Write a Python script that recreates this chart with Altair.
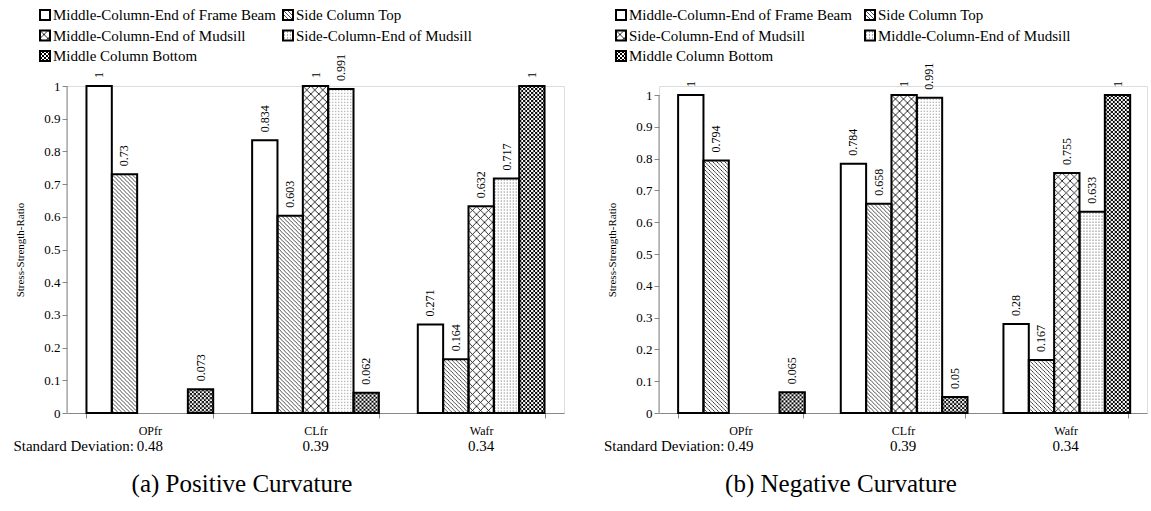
import altair as alt
import pandas as pd
from urllib.parse import quote

FONT = "Liberation Serif"

categories = ["OPfr", "CLfr", "Wafr"]
slots = ["s1", "s2", "s3", "s4", "s5"]

names_a = ["Middle-Column-End of Frame Beam", "Side Column Top",
           "Middle-Column-End of Mudsill", "Side-Column-End of Mudsill",
           "Middle Column Bottom"]
names_b = ["Middle-Column-End of Frame Beam", "Side Column Top",
           "Side-Column-End of Mudsill", "Middle-Column-End of Mudsill",
           "Middle Column Bottom"]

# values per category, in slot order (None = no bar)
a_opfr = [1, 0.73, None, None, 0.073]
a_clfr = [0.834, 0.603, 1, 0.991, 0.062]
a_wafr = [0.271, 0.164, 0.632, 0.717, 1]
b_opfr = [1, 0.794, None, None, 0.065]
b_clfr = [0.784, 0.658, 1, 0.991, 0.05]
b_wafr = [0.28, 0.167, 0.755, 0.633, 1]

sd_a = ["0.48", "0.39", "0.34"]
sd_b = ["0.49", "0.39", "0.34"]
y_ticks = [0, 0.1, 0.2, 0.3, 0.4, 0.5, 0.6, 0.7, 0.8, 0.9, 1]


def tile(inner, w, h, bg):
    svg = ("<svg xmlns='http://www.w3.org/2000/svg' width='100%' height='100%'>"
           f"<defs><pattern id='p' width='{w}' height='{h}' patternUnits='userSpaceOnUse'>"
           f"<rect width='{w}' height='{h}' fill='{bg}'/>{inner}</pattern></defs>"
           "<rect width='100%' height='100%' fill='url(#p)'/></svg>")
    return "data:image/svg+xml;charset=utf-8," + quote(svg)


patterns = [
    "",
    tile("<path d='M0,0 L4,4 M-1,3 L1,5 M3,-1 L5,1' stroke='black' stroke-width='0.7'/>", 4, 4, "white"),
    tile("<path d='M0,0 L8,8 M8,0 L0,8' stroke='black' stroke-width='0.8'/>", 8, 8, "white"),
    tile("<rect x='1' y='1' width='1' height='1' fill='#666'/>", 3, 3, "white"),
    tile("<rect x='0' y='0' width='2' height='2' fill='white'/><rect x='2' y='2' width='2' height='2' fill='white'/>", 4, 4, "black"),
]


def panel(values, names, sds, caption, width, height, ymax, leg_x, leg_dx, leg_y, cap_x):
    rows = []
    for c, vals in zip(categories, values):
        for i, v in enumerate(vals):
            if v is None:
                continue
            rows.append(dict(cat=c, slot=slots[i], value=v, label=f"{v:g}", url=patterns[i]))
    df = pd.DataFrame(rows)

    x = alt.X("cat:N", sort=categories, title=None,
              scale=alt.Scale(domain=categories, paddingInner=0.235, paddingOuter=0.1175),
              axis=alt.Axis(labelAngle=0, tickBand="extent", tickSize=5, tickColor="#888",
                            domainColor="#888", labelFont=FONT, labelFontSize=12,
                            labelColor="black", labelPadding=7))
    xo = alt.XOffset("slot:N", sort=slots,
                     scale=alt.Scale(domain=slots, paddingInner=0, paddingOuter=0))
    y = alt.Y("value:Q", stack=None,
              scale=alt.Scale(domain=[0, ymax], nice=False),
              axis=alt.Axis(title="Stress-Strength-Ratio", values=y_ticks, domain=False,
                            labelOverlap=False, format="~g", grid=False, tickSize=5,
                            tickColor="#888", labelFont=FONT, labelFontSize=13,
                            labelColor="black", titleFont=FONT, titleFontSize=11,
                            titleFontWeight="normal", titleColor="black", titlePadding=18))

    base = alt.Chart(df).encode(x=x, xOffset=xo)
    fill = base.mark_bar(fill="white", stroke=None).encode(y=y)
    pats = base.transform_filter("datum.url != ''").mark_image(aspect=False).encode(
        y=y, y2=alt.datum(0), url="url:N")
    outline = base.mark_bar(fillOpacity=0, stroke="black", strokeWidth=2).encode(y=y)
    labels = base.mark_text(angle=270, align="left", baseline="middle", dx=8,
                            font=FONT, fontSize=12, color="black").encode(y=y, text="label:N")

    yaxis_line = alt.Chart(pd.DataFrame({"value": [0], "hi": [1]})).mark_rule(
        color="#888", strokeWidth=1).encode(
        x=alt.value(0), y=y, y2="hi:Q")

    sd_df = pd.DataFrame({"cat": categories, "sd": sds})
    sd_text = alt.Chart(sd_df).mark_text(font=FONT, fontSize=15, color="black",
                                         baseline="middle").encode(
        x=alt.X("cat:N", sort=categories), y=alt.value(height + 33), text="sd:N")
    sd_head = alt.Chart(sd_df.iloc[:1]).mark_text(font=FONT, fontSize=15, color="black",
                                                  align="right", baseline="middle", dx=-16).encode(
        x=alt.X("cat:N", sort=categories), y=alt.value(height + 33),
        text=alt.value("Standard Deviation:"))

    leg = pd.DataFrame({
        "name": names,
        "url": patterns,
        "lx": [leg_x + (i % 2) * leg_dx for i in range(5)],
        "ly": [leg_y + (i // 2) * 20.5 for i in range(5)],
    })
    leg["tx"] = leg["lx"] + 8
    leg_img = alt.Chart(leg).transform_filter("datum.url != ''").mark_image(
        width=10, height=10, aspect=False, align="center", baseline="middle").encode(
        x=alt.X("lx:Q", scale=None), y=alt.Y("ly:Q", scale=None), url="url:N")
    leg_box = alt.Chart(leg).mark_rect(fillOpacity=0, stroke="black", strokeWidth=2,
                                       width=10, height=10).encode(
        x=alt.X("lx:Q", scale=None), y=alt.Y("ly:Q", scale=None))
    leg_txt = alt.Chart(leg).mark_text(font=FONT, fontSize=15, align="left",
                                       baseline="middle", color="black").encode(
        x=alt.X("tx:Q", scale=None), y=alt.Y("ly:Q", scale=None), text="name:N")

    cap = alt.Chart(pd.DataFrame({"t": [caption]})).mark_text(
        font=FONT, fontSize=25, color="black", baseline="middle").encode(
        x=alt.value(cap_x), y=alt.value(height + 71), text="t:N")

    return alt.layer(fill, pats, outline, labels, yaxis_line, sd_text, sd_head,
                     leg_img, leg_box, leg_txt, cap).properties(width=width, height=height)


H = 327
pa = panel([a_opfr, a_clfr, a_wafr], names_a, sd_a, "(a) Positive Curvature",
           497, H, 1.0, -22, 243, -71, 175)
pb = panel([b_opfr, b_clfr, b_wafr], names_b, sd_b, "(b) Negative Curvature",
           488, H, H / 318, -38, 249, -71, 182)

chart = alt.hconcat(pa, pb, spacing=38).properties(
    padding={"left": 12, "top": 7, "right": 0, "bottom": 0}
).configure_view(stroke=None).configure(background="white")

chart.save("out.html", embed_options={"renderer": "svg", "actions": False})
